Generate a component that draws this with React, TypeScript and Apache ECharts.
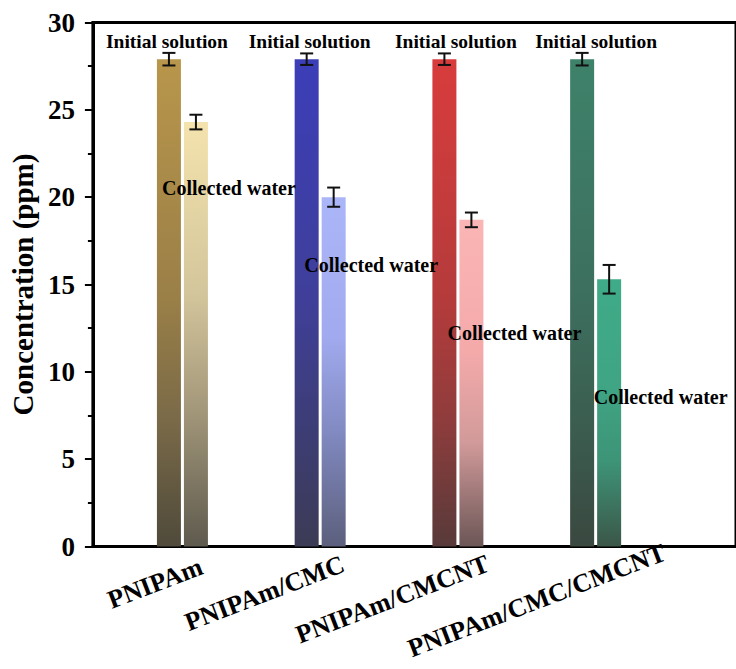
import React, { useEffect, useRef } from "react";
import * as echarts from "echarts";

// Samples (one group of two bars per material)
const categories = ["PNIPAm", "PNIPAm/CMC", "PNIPAm/CMCNT", "PNIPAm/CMC/CMCNT"];
const seriesNames = ["Initial solution", "Collected water"];

// Concentration (ppm) with standard deviations
const initialValues = [27.9, 27.9, 27.9, 27.9];
const initialErrors = [0.36, 0.33, 0.33, 0.36];
const collectedValues = [24.3, 20.0, 18.7, 15.3];
const collectedErrors = [0.42, 0.55, 0.42, 0.82];

// Y axis range
const yMin = 0;
const yMax = 30;
const yStep = 5;

// ---- styling ----
const FONT = "Liberation Serif";
const BAR_W = 24;
const BAR_GAP_PX = 3;

// vertical gradient stops (top -> bottom) for each bar
const initialColors = [
  ["#b8964b", "#9a7f47", "#7a6a48", "#4f4a3b"],
  ["#3c3eb8", "#3f3f9a", "#3d3d78", "#3c3b55"],
  ["#d83c3c", "#b53b3b", "#8f3c3c", "#583a3a"],
  ["#3e826a", "#3d6f5e", "#3b5e50", "#3a4840"],
];
const collectedColors = [
  ["#f4e3ad", "#d4c69c", "#a3977a", "#5e5a4e"],
  ["#abb6f8", "#a1aaee", "#8089c0", "#5c5f7c"],
  ["#fbb5b5", "#f5aaaa", "#d29a9a", "#6c5656"],
  ["#3fab88", "#3fa584", "#3d9477", "#3b5649"],
];
const initialStops = [0, 0.49, 0.74, 1];
const collectedStops = [0, 0.4, 0.68, 1];

// label placement relative to the bar top (px)
const initialLabelOffsets = [[-2, -18], [3, -18], [11.5, -18], [14, -18]];
const collectedLabelOffsets = [[33, 66], [37.5, 68], [43, 113], [51.5, 118]];
// category label anchor relative to the group centre on the x axis (px)
const categoryLabelOffsets = [[19, 19], [23, 16.5], [30, 16], [69, 5]];
const CATEGORY_ROTATION = 21;

function gradient(colors: string[], stops: number[]) {
  return new echarts.graphic.LinearGradient(
    0, 0, 0, 1,
    colors.map((c, k) => ({ offset: stops[k], color: c }))
  );
}

function barData(values: number[], colors: string[][], stops: number[], offsets: number[][]) {
  return values.map((v, i) => ({
    value: [i + 1, v],
    itemStyle: { color: gradient(colors[i], stops) },
    label: { offset: offsets[i] },
  }));
}

export default function App() {
  const ref = useRef<HTMLDivElement>(null);

  useEffect(() => {
    if (!ref.current) return;
    const chart = echarts.init(ref.current, undefined, { renderer: "svg" });

    const gridLeft = 90;
    const gridRight = -10;
    const unitPx = 140.5;
    const xMin = 0.35;
    const xMax = xMin + (736 - gridLeft - gridRight) / unitPx;

    const errorData: number[][] = [];
    categories.forEach((_, i) => {
      errorData.push([i + 1, initialValues[i], initialErrors[i], -1]);
      errorData.push([i + 1, collectedValues[i], collectedErrors[i], 1]);
    });

    const labelText = {
      fontFamily: FONT,
      fontWeight: "bold" as const,
      fontSize: 19.5,
      color: "#000",
    };

    chart.setOption({
      animation: false,
      backgroundColor: "#fff",
      textStyle: { fontFamily: FONT },
      grid: {
        left: gridLeft,
        right: gridRight,
        top: 22.5,
        bottom: 122.5,
        show: true,
        borderColor: "#000",
        borderWidth: 3,
        backgroundColor: "transparent",
      },
      xAxis: {
        type: "value",
        min: xMin,
        max: xMax,
        axisLine: { show: true, onZero: false, lineStyle: { color: "#000", width: 3 } },
        axisTick: { show: false },
        axisLabel: { show: false },
        splitLine: { show: false },
      },
      yAxis: {
        type: "value",
        min: yMin,
        max: yMax,
        interval: yStep,
        name: "Concentration (ppm)",
        nameLocation: "middle",
        nameGap: 46,
        nameTextStyle: { fontFamily: FONT, fontWeight: "bold", fontSize: 29, color: "#000" },
        axisLine: { show: true, lineStyle: { color: "#000", width: 3 } },
        axisTick: { show: true, inside: false, length: 8, lineStyle: { color: "#000", width: 2 } },
        minorTick: { show: true, splitNumber: 2, length: 5, lineStyle: { color: "#000", width: 2 } },
        axisLabel: { fontFamily: FONT, fontWeight: "bold", fontSize: 27, color: "#000", margin: 18 },
        splitLine: { show: false },
      },
      series: [
        {
          name: seriesNames[0],
          type: "bar",
          barWidth: BAR_W,
          barGap: `${(BAR_GAP_PX / BAR_W) * 100}%`,
          data: barData(initialValues, initialColors, initialStops, initialLabelOffsets),
          label: {
            show: true,
            position: "top",
            distance: 0,
            verticalAlign: "middle",
            formatter: seriesNames[0],
            ...labelText,
          },
        },
        {
          name: seriesNames[1],
          type: "bar",
          barWidth: BAR_W,
          barGap: `${(BAR_GAP_PX / BAR_W) * 100}%`,
          data: barData(collectedValues, collectedColors, collectedStops, collectedLabelOffsets),
          label: {
            show: true,
            position: "top",
            distance: 0,
            verticalAlign: "middle",
            formatter: seriesNames[1],
            ...labelText,
            fontSize: 20,
          },
          z: 3,
        },
        {
          name: "error",
          type: "custom",
          data: errorData,
          encode: { x: 0, y: 1 },
          z: 5,
          renderItem: (_params: any, api: any) => {
            const x = api.value(0);
            const v = api.value(1);
            const e = api.value(2);
            const side = api.value(3);
            const base = api.coord([x, v]);
            const px = base[0] + (side * (BAR_W + BAR_GAP_PX)) / 2;
            const hi = api.coord([x, v + e])[1];
            const lo = api.coord([x, v - e])[1];
            const cap = 6.5;
            const style = { stroke: "#111", lineWidth: 2 };
            return {
              type: "group",
              children: [
                { type: "line", shape: { x1: px, y1: hi, x2: px, y2: lo }, style },
                { type: "line", shape: { x1: px - cap, y1: hi, x2: px + cap, y2: hi }, style },
                { type: "line", shape: { x1: px - cap, y1: lo, x2: px + cap, y2: lo }, style },
              ],
            };
          },
        },
      ],
    });

    // rotated category names under each group
    const rot = (CATEGORY_ROTATION * Math.PI) / 180;
    const graphics = categories.map((name, i) => {
      const p = chart.convertToPixel({ xAxisIndex: 0, yAxisIndex: 0 }, [i + 1, 0]) as number[];
      return {
        type: "text",
        x: p[0] + categoryLabelOffsets[i][0],
        y: p[1] + categoryLabelOffsets[i][1],
        rotation: rot,
        style: {
          text: name,
          fontFamily: FONT,
          fontWeight: "bold",
          fontSize: 26,
          fill: "#000",
          align: "right",
          verticalAlign: "middle",
        },
      };
    });
    chart.setOption({ graphic: graphics });

    return () => chart.dispose();
  }, []);

  return (
    <div
      ref={ref}
      style={{ position: "fixed", left: 0, top: 0, width: 736, height: 669, background: "#fff" }}
    />
  );
}
